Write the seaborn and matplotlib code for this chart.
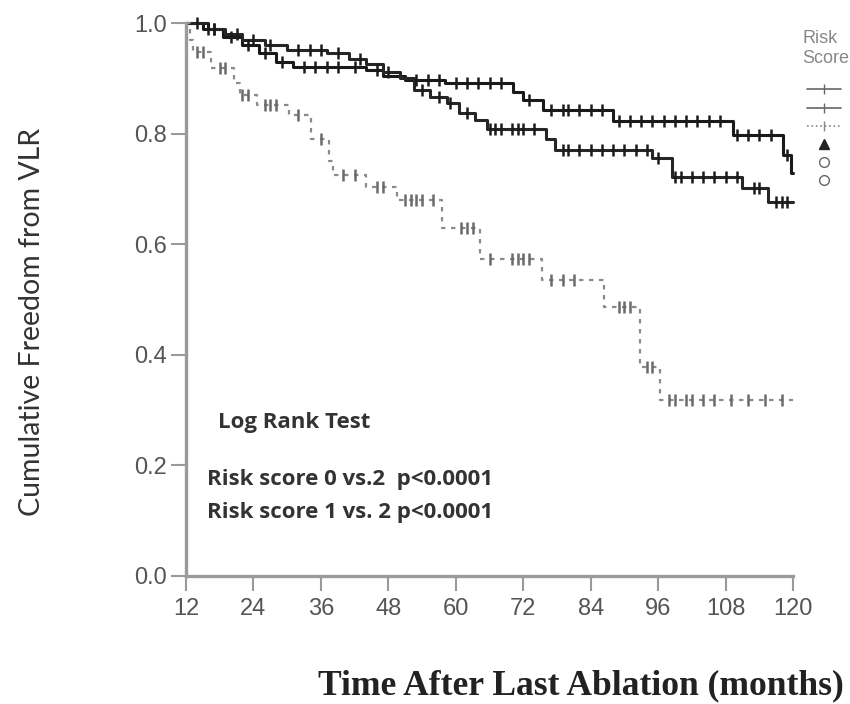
import numpy as np
import pandas as pd
import matplotlib
matplotlib.use("Agg")
import matplotlib.pyplot as plt
import seaborn as sns
from matplotlib.lines import Line2D

# Kaplan-Meier estimates by risk score: step times (months) and survival after each step
risk0_t = [12, 15, 18.5, 22, 25, 28, 31, 44, 47, 51, 58, 70.2, 72, 75.6, 88, 109.4, 118.3, 119.6]
risk0_s = [1.0, 0.99, 0.975, 0.96, 0.945, 0.93, 0.92, 0.915, 0.905, 0.897, 0.891, 0.875, 0.861, 0.843, 0.822, 0.797, 0.761, 0.729]

risk1_t = [12, 16, 19, 22, 26, 30, 37, 41, 44, 47, 50, 52.5, 55.5, 58.4, 60.5, 63.5, 65.5, 76, 77.6, 95, 98.5, 111, 115.5]
risk1_s = [1.0, 0.99, 0.98, 0.97, 0.96, 0.951, 0.945, 0.935, 0.925, 0.912, 0.9, 0.879, 0.866, 0.855, 0.838, 0.825, 0.808, 0.79, 0.77, 0.755, 0.722, 0.701, 0.677]

risk2_t = [12, 12.8, 13.2, 16.5, 20.5, 21.6, 24.6, 30.3, 34.3, 37.5, 38.2, 44, 49.5, 57.5, 64.3, 75.3, 86.4, 92.8, 96.4]
risk2_s = [1.0, 0.97, 0.948, 0.918, 0.891, 0.870, 0.852, 0.834, 0.79, 0.75, 0.725, 0.703, 0.68, 0.629, 0.573, 0.535, 0.487, 0.378, 0.318]

# censored observations (months)
risk0_cens = [16, 17, 20, 23, 26, 29, 33, 35, 37, 39, 42, 46, 53, 55, 57, 60, 62, 64, 66, 68,
              73, 77, 79, 80, 82, 84, 86, 89, 91, 93, 95, 97, 99, 101, 103, 105, 107, 110,
              112, 114, 116, 119]
risk1_cens = [14, 17, 21, 24, 27, 32, 34, 36, 39, 43, 48, 54, 57, 59, 62, 66, 67, 68, 70, 71,
              72, 74, 79, 80, 82, 84, 86, 88, 90, 92, 94, 96, 99, 100, 102, 104, 106, 108,
              110, 113, 114, 117, 118, 119]
risk2_cens = [14, 15, 18, 19, 22, 23, 26, 27, 28, 32, 36, 40, 42, 46, 47, 51, 52, 53, 54, 56,
              61, 62, 63, 66, 70, 71, 72, 73, 77, 79, 81, 89, 90, 91, 94, 95, 98, 99, 101,
              102, 104, 106, 109, 112, 115, 118]

follow_up_end = 120
x_ticks = [12, 24, 36, 48, 60, 72, 84, 96, 108, 120]
y_ticks = [0.0, 0.2, 0.4, 0.6, 0.8, 1.0]

groups = [
    ("0", risk0_t, risk0_s, risk0_cens, dict(color="#1a1a1a", linewidth=2.2, linestyle="-")),
    ("1", risk1_t, risk1_s, risk1_cens, dict(color="#262626", linewidth=2.2, linestyle="-")),
    ("2", risk2_t, risk2_s, risk2_cens, dict(color="#8a8a8a", linewidth=1.6, linestyle=(0, (2, 2.5)))),
]

sns.set_theme(style="white")
plt.rcParams["font.family"] = ["Liberation Sans", "DejaVu Sans"]

fig = plt.figure(figsize=(8.5, 7.04), dpi=100)
ax = fig.add_axes([186 / 850, 1 - 576 / 704, (793 - 186) / 850, (576 - 23) / 704])

for name, t, s, cens, style in groups:
    curve = pd.DataFrame({"time": list(t) + [follow_up_end], "surv": list(s) + [s[-1]]})
    sns.lineplot(data=curve, x="time", y="surv", drawstyle="steps-post", estimator=None,
                 ax=ax, clip_on=False, **style)
    idx = np.searchsorted(np.asarray(t), np.asarray(cens), side="right") - 1
    marks = pd.DataFrame({"time": cens, "surv": np.asarray(s)[idx]})
    mark_color = "#1a1a1a" if name != "2" else "#6a6a6a"
    sns.scatterplot(data=marks, x="time", y="surv", marker="|", s=80, linewidth=1.8,
                    color=mark_color, ax=ax, clip_on=False, zorder=3)

ax.set_xlim(12, 120)
ax.set_ylim(0, 1)
ax.set_xticks(x_ticks)
ax.set_xticklabels([str(v) for v in x_ticks])
ax.set_yticks(y_ticks)
ax.set_yticklabels([f"{v:.1f}" for v in y_ticks])
ax.set_xlabel("")
ax.set_ylabel("")

for side in ("top", "right"):
    ax.spines[side].set_visible(False)
for side in ("left", "bottom"):
    ax.spines[side].set_color("#9a9a9a")
    ax.spines[side].set_linewidth(2.4)

ax.tick_params(axis="both", direction="out", length=11, width=1.5, color="#9a9a9a",
               labelsize=17, labelcolor="#555555", bottom=True, left=True)
ax.tick_params(axis="y", pad=2.5)
ax.tick_params(axis="x", pad=5)

# log-rank test annotation
note_font = dict(family=["Open Sans", "DejaVu Sans"], weight="bold", color="#333333", fontsize=16)
ax.text(0.053, 0.277, "Log Rank Test", transform=ax.transAxes, ha="left", va="center", **note_font)
ax.text(0.035, 0.174, "Risk score 0 vs.2  p<0.0001", transform=ax.transAxes, ha="left", va="center", **note_font)
ax.text(0.035, 0.114, "Risk score 1 vs. 2 p<0.0001", transform=ax.transAxes, ha="left", va="center", **note_font)

# axis titles
fig.text(32 / 850, 1 - 322 / 704, "Cumulative Freedom from VLR", rotation=90, ha="center", va="center",
         family=["Lato", "DejaVu Sans"], fontsize=20.5, color="#333333")
fig.text(318 / 850, 1 - 686 / 704, "Time After Last Ablation (months)", ha="left", va="center",
         family=["Liberation Serif", "DejaVu Serif"], weight="bold", fontsize=25.6, color="#222222")

# risk score legend at the right edge
handles = [
    Line2D([], [], color="#666666", lw=1.2, marker="|", markersize=7),
    Line2D([], [], color="#666666", lw=1.2, marker="|", markersize=7),
    Line2D([], [], color="#888888", lw=1.2, ls=":", marker="|", markersize=7),
    Line2D([], [], color="#222222", lw=0, marker="^", markersize=7),
    Line2D([], [], color="#666666", lw=0, marker="o", markersize=7, markerfacecolor="white"),
    Line2D([], [], color="#666666", lw=0, marker="o", markersize=7, markerfacecolor="white"),
]
labels = [""] * len(handles)
leg = fig.legend(handles, labels, loc="upper left", bbox_to_anchor=(802 / 850, 1 - 30 / 704),
                 frameon=False, title="Risk\nScore", fontsize=10, title_fontsize=13,
                 handlelength=2.4, labelspacing=0.3, borderaxespad=0, borderpad=0,
                 handletextpad=0.2)
leg._legend_box.sep = 12
leg.get_title().set_color("#888888")

fig.savefig("out.png", dpi=100)
